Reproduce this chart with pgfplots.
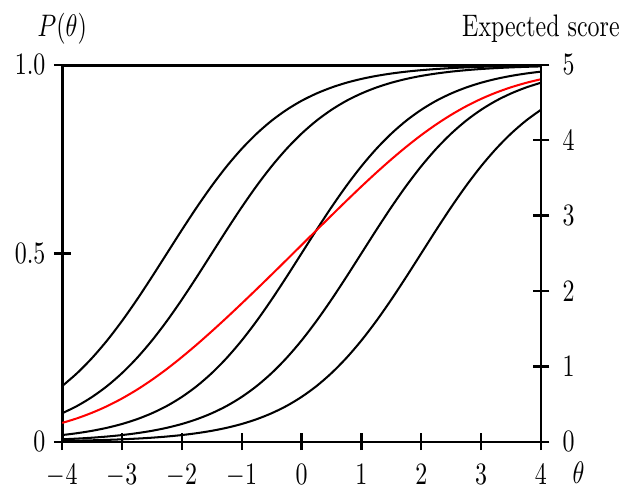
\documentclass[border=0pt]{standalone}
\usepackage{pgfplots}
\pgfplotsset{compat=1.18}
\usepackage{pgfplotstable}

% item characteristic curves A-E and the mean (expected score / 5)
\pgfplotstableread{
theta  A      B      C      D      E      S
-4.00  0.1480 0.0759 0.0180 0.0067 0.0025 0.0502
-3.75  0.1824 0.0953 0.0230 0.0086 0.0032 0.0625
-3.50  0.2227 0.1192 0.0293 0.0110 0.0041 0.0773
-3.25  0.2689 0.1480 0.0373 0.0141 0.0052 0.0947
-3.00  0.3208 0.1824 0.0474 0.0180 0.0067 0.1151
-2.75  0.3775 0.2227 0.0601 0.0230 0.0086 0.1384
-2.50  0.4378 0.2689 0.0759 0.0293 0.0110 0.1646
-2.25  0.5000 0.3208 0.0953 0.0373 0.0141 0.1935
-2.00  0.5622 0.3775 0.1192 0.0474 0.0180 0.2249
-1.75  0.6225 0.4378 0.1480 0.0601 0.0230 0.2583
-1.50  0.6792 0.5000 0.1824 0.0759 0.0293 0.2934
-1.25  0.7311 0.5622 0.2227 0.0953 0.0373 0.3297
-1.00  0.7773 0.6225 0.2689 0.1192 0.0474 0.3671
-0.75  0.8176 0.6792 0.3208 0.1480 0.0601 0.4051
-0.50  0.8520 0.7311 0.3775 0.1824 0.0759 0.4438
-0.25  0.8808 0.7773 0.4378 0.2227 0.0953 0.4828
 0.00  0.9047 0.8176 0.5000 0.2689 0.1192 0.5221
 0.25  0.9241 0.8520 0.5622 0.3208 0.1480 0.5614
 0.50  0.9399 0.8808 0.6225 0.3775 0.1824 0.6006
 0.75  0.9526 0.9047 0.6792 0.4378 0.2227 0.6394
 1.00  0.9627 0.9241 0.7311 0.5000 0.2689 0.6774
 1.25  0.9707 0.9399 0.7773 0.5622 0.3208 0.7142
 1.50  0.9770 0.9526 0.8176 0.6225 0.3775 0.7494
 1.75  0.9820 0.9627 0.8520 0.6792 0.4378 0.7827
 2.00  0.9859 0.9707 0.8808 0.7311 0.5000 0.8137
 2.25  0.9890 0.9770 0.9047 0.7773 0.5622 0.8420
 2.50  0.9914 0.9820 0.9241 0.8176 0.6225 0.8675
 2.75  0.9933 0.9859 0.9399 0.8520 0.6792 0.8901
 3.00  0.9948 0.9890 0.9526 0.8808 0.7311 0.9097
 3.25  0.9959 0.9914 0.9627 0.9047 0.7773 0.9264
 3.50  0.9968 0.9933 0.9707 0.9241 0.8176 0.9405
 3.75  0.9975 0.9948 0.9770 0.9399 0.8520 0.9522
 4.00  0.9981 0.9959 0.9820 0.9526 0.8808 0.9619
}\icc

\begin{document}
\begin{tikzpicture}
\begin{axis}[
  name=main,
  width=200pt, height=157.5pt, scale only axis,
  xmin=-4, xmax=4, ymin=0, ymax=1,
  axis line style={line width=1.1pt},
  xtick={-4,-3,...,4}, ytick={0,0.5,1}, yticklabels={0,0.5,1.0},
  xtick pos=bottom, ytick pos=left,
  tick align=center, major tick length=7pt,
  tick style={line width=1pt, black},
  tick label style={yscale=1.3},
  xticklabel style={inner ysep=0pt, yshift=-4.5pt},
  every axis plot/.append style={line width=0.85pt},
]
\addplot[black, smooth] table[x=theta, y=A] {\icc};
\addplot[black, smooth] table[x=theta, y=B] {\icc};
\addplot[black, smooth] table[x=theta, y=C] {\icc};
\addplot[black, smooth] table[x=theta, y=D] {\icc};
\addplot[black, smooth] table[x=theta, y=E] {\icc};
\addplot[red, smooth] table[x=theta, y=S] {\icc};
\draw[line width=1.6pt] (rel axis cs:0,1) -- (rel axis cs:1,1);
\end{axis}
\begin{axis}[
  width=200pt, height=157.5pt, scale only axis,
  xmin=-4, xmax=4, ymin=0, ymax=5,
  axis x line=none, axis y line*=right,
  axis line style={line width=1.1pt, -},
  ytick={0,1,...,5},
  tick align=center, major tick length=7pt,
  tick style={line width=1pt, black},
  tick label style={yscale=1.3},
  yticklabel style={xshift=2pt},
]
\end{axis}
\node[anchor=base, yshift=12pt, yscale=1.3] at (main.north west) {$P(\theta)$};
\node[anchor=base, yshift=12pt, yscale=1.3] at (main.north east) {Expected score};
\node[anchor=north west, inner sep=0pt, xshift=13pt, yshift=-8pt, yscale=1.3] at (main.south east) {$\theta$};
\pgfresetboundingbox
\path ([shift={(-26pt,-20.8pt)}]main.south west) rectangle ([shift={(34.7pt,27.1pt)}]main.north east);
\end{tikzpicture}
\end{document}
